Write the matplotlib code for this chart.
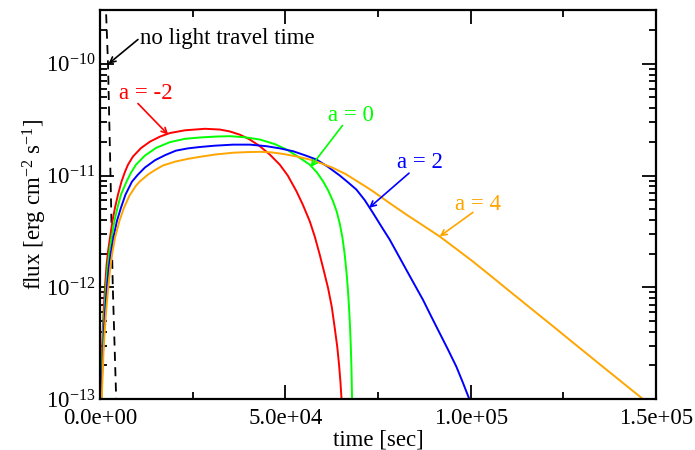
import numpy as np
import matplotlib
matplotlib.use('Agg')
import matplotlib.pyplot as plt
from matplotlib.ticker import MultipleLocator, LogLocator, NullFormatter, FuncFormatter

plt.rcParams['font.family'] = ['Liberation Serif', 'DejaVu Serif']
plt.rcParams['mathtext.fontset'] = 'custom'
plt.rcParams['mathtext.rm'] = 'Liberation Serif'
plt.rcParams['mathtext.it'] = 'Liberation Serif:italic'

# light curves (time in sec, flux in erg cm^-2 s^-1)
t_red = [189, 350, 539, 755, 1024, 1348, 1752, 2156, 2695, 3369, 4043, 4851, 5794, 6738, 7546, 8894,
         11050, 13475, 16170, 18865, 22908, 28298, 32340, 35035, 37730, 40425, 43120, 45815, 48510,
         50666, 53010, 54709, 56595, 57943, 59290, 60368, 61526, 62524, 63332, 64006, 64491, 64869, 65138]
f_red = [1.0e-13, 1.64e-13, 2.64e-13, 4.16e-13, 6.55e-13, 1.01e-12, 1.56e-12, 2.08e-12, 2.78e-12, 3.94e-12,
         5.16e-12, 6.75e-12, 8.82e-12, 1.08e-11, 1.25e-11, 1.48e-11, 1.76e-11, 2.01e-11, 2.23e-11, 2.40e-11,
         2.54e-11, 2.62e-11, 2.58e-11, 2.48e-11, 2.32e-11, 2.10e-11, 1.83e-11, 1.54e-11, 1.25e-11, 9.98e-12,
         7.22e-12, 5.49e-12, 3.89e-12, 2.84e-12, 1.95e-12, 1.41e-12, 9.84e-13, 6.69e-13, 4.31e-13, 2.93e-13,
         2.02e-13, 1.42e-13, 1.02e-13]

t_green = [270, 458, 674, 916, 1240, 1617, 2075, 2533, 3099, 3908, 4716, 5660, 7142, 8355, 9702, 12128,
           15173, 18865, 22908, 26950, 30993, 35035, 39078, 43120, 47163, 50316, 53361, 56595, 58482,
           60179, 61581, 62874, 63872, 64680, 65408, 66028, 66567, 66917, 67186, 67429, 67645, 67833, 67995]
f_green = [1.0e-13, 1.64e-13, 2.64e-13, 4.16e-13, 6.55e-13, 1.01e-12, 1.56e-12, 2.08e-12, 2.78e-12, 3.94e-12,
           5.16e-12, 6.75e-12, 8.82e-12, 1.06e-11, 1.25e-11, 1.51e-11, 1.77e-11, 1.99e-11, 2.13e-11, 2.19e-11,
           2.23e-11, 2.25e-11, 2.20e-11, 2.10e-11, 1.91e-11, 1.71e-11, 1.48e-11, 1.25e-11, 1.07e-11,
           8.87e-12, 7.32e-12, 5.87e-12, 4.75e-12, 3.71e-12, 2.78e-12, 1.95e-12, 1.29e-12, 9.12e-13, 6.55e-13,
           4.61e-13, 3.05e-13, 1.90e-13, 1.02e-13]

t_blue = [350, 566, 809, 1078, 1455, 1887, 2426, 2965, 3611, 4582, 5660, 6872, 8624, 10241, 12128, 14823,
          17518, 20482, 23716, 26950, 30993, 35924, 40425, 44926, 48510, 52094, 55248, 58400, 61446, 64680,
          66836, 69181, 71418, 73654, 75864, 78155, 80311, 82655, 84893, 87130, 89339, 91630, 93786, 96131,
          97829, 99526]
f_blue = [1.0e-13, 1.64e-13, 2.64e-13, 4.16e-13, 6.55e-13, 1.01e-12, 1.56e-12, 2.08e-12, 2.78e-12, 3.94e-12,
          5.16e-12, 6.75e-12, 8.82e-12, 1.02e-11, 1.18e-11, 1.37e-11, 1.52e-11, 1.67e-11, 1.75e-11, 1.80e-11,
          1.85e-11, 1.89e-11, 1.89e-11, 1.83e-11, 1.75e-11, 1.65e-11, 1.52e-11, 1.39e-11, 1.20e-11, 1.0e-11,
          8.73e-12, 7.48e-12, 6.02e-12, 4.62e-12, 3.52e-12, 2.67e-12, 1.98e-12, 1.43e-12, 1.05e-12, 7.73e-13,
          5.50e-13, 3.89e-13, 2.81e-13, 1.95e-13, 1.42e-13, 1.02e-13]

t_orange = [458, 701, 943, 1294, 1725, 2237, 2830, 3369, 4043, 5255, 6468, 7950, 9702, 10780, 12936, 14823,
            16979, 20213, 23716, 26950, 30993, 35924, 39617, 43120, 46354, 49399, 53092, 56595, 59829, 62874,
            66297, 69531, 71687, 73654, 78155, 82655, 87049, 91630, 96077, 100604, 105105, 109605, 113999,
            118580, 123027, 127554, 132055, 136555, 141218, 146150]
f_orange = [1.0e-13, 1.64e-13, 2.64e-13, 4.16e-13, 6.55e-13, 1.01e-12, 1.56e-12, 2.08e-12, 2.78e-12, 3.94e-12,
            5.16e-12, 6.61e-12, 8.11e-12, 8.87e-12, 1.02e-11, 1.12e-11, 1.23e-11, 1.33e-11, 1.41e-11, 1.47e-11,
            1.54e-11, 1.60e-11, 1.62e-11, 1.63e-11, 1.61e-11, 1.56e-11, 1.48e-11, 1.39e-11, 1.28e-11, 1.17e-11,
            1.03e-11, 8.82e-12, 7.96e-12, 7.22e-12, 5.66e-12, 4.47e-12, 3.59e-12, 2.85e-12, 2.21e-12, 1.70e-12,
            1.29e-12, 9.75e-13, 7.43e-13, 5.60e-13, 4.26e-13, 3.21e-13, 2.43e-13, 1.84e-13, 1.38e-13, 1.02e-13]

# "no light travel time" curve
t_nolt = [1200, 1617, 2156, 2830, 3450, 4366, 4800]
f_nolt = [6e-10, 3.0e-10, 1e-10, 1e-11, 1e-12, 1e-13, 5e-14]

fig = plt.figure(figsize=(6.95, 4.5), dpi=100)
ax = fig.add_axes([0.1439, 0.1133, 0.8, 0.8645])

ax.plot(t_nolt, f_nolt, color='black', lw=1.3, linestyle=(0, (5, 3.5)))
ax.plot(t_red, f_red, color='#ff0000', lw=1.4)
ax.plot(t_green, f_green, color='#00ff00', lw=1.4)
ax.plot(t_blue, f_blue, color='#0000ff', lw=1.4)
ax.plot(t_orange, f_orange, color='#ffa500', lw=1.4)

ax.set_yscale('log')
ax.set_xlim(0, 1.5e5)
ax.set_ylim(1e-13, 3.03e-10)

ax.xaxis.set_major_locator(MultipleLocator(5e4))
ax.xaxis.set_minor_locator(MultipleLocator(2.5e4))
ax.xaxis.set_major_formatter(FuncFormatter(lambda v, p: '%.1e' % v))
ax.yaxis.set_major_locator(LogLocator(base=10))
ax.yaxis.set_minor_locator(LogLocator(base=10, subs=np.arange(2, 10)))
ax.yaxis.set_minor_formatter(NullFormatter())

ax.tick_params(which='both', direction='in', top=True, right=True, labelsize=16.5, width=1.3)
ax.tick_params(which='major', length=10)
ax.tick_params(which='minor', length=5)
ax.tick_params(axis='x', pad=6.5)
for s in ax.spines.values():
    s.set_linewidth(1.6)

ax.set_xlabel('time [sec]', fontsize=16.5, labelpad=0)
ax.set_ylabel(r'flux [erg cm$^{-2}$ s$^{-1}$]', fontsize=16.5)
ax.yaxis.set_label_coords(-0.092, 0.5)

# labels with arrows
def label(txt, xy, tail, pos, col):
    ax.annotate('', xy=xy, xytext=tail,
                arrowprops=dict(arrowstyle='->', color=col, lw=1.2, shrinkA=0, shrinkB=0))
    ax.text(pos[0], pos[1], txt, color=col, fontsize=16.5, ha='center', va='center')

ax.annotate('', xy=(2300, 1e-10), xytext=(10240, 1.65e-10),
            arrowprops=dict(arrowstyle='->', color='black', lw=1.2, shrinkA=0, shrinkB=0))
ax.text(10780, 1.68e-10, 'no light travel time', fontsize=16.5, ha='left', va='center')
label('a = -2', (18400, 2.32e-11), (10240, 4.41e-11), (12400, 5.45e-11), '#ff0000')
label('a = 0', (56780, 1.19e-11), (65400, 2.80e-11), (67830, 3.45e-11), '#00ff00')
label('a = 2', (72570, 5.13e-12), (83360, 1.05e-11), (86430, 1.30e-11), '#0000ff')
label('a = 4', (91630, 2.85e-12), (100600, 4.68e-12), (101950, 5.45e-12), '#ffa500')

fig.savefig('out.png', dpi=100)
